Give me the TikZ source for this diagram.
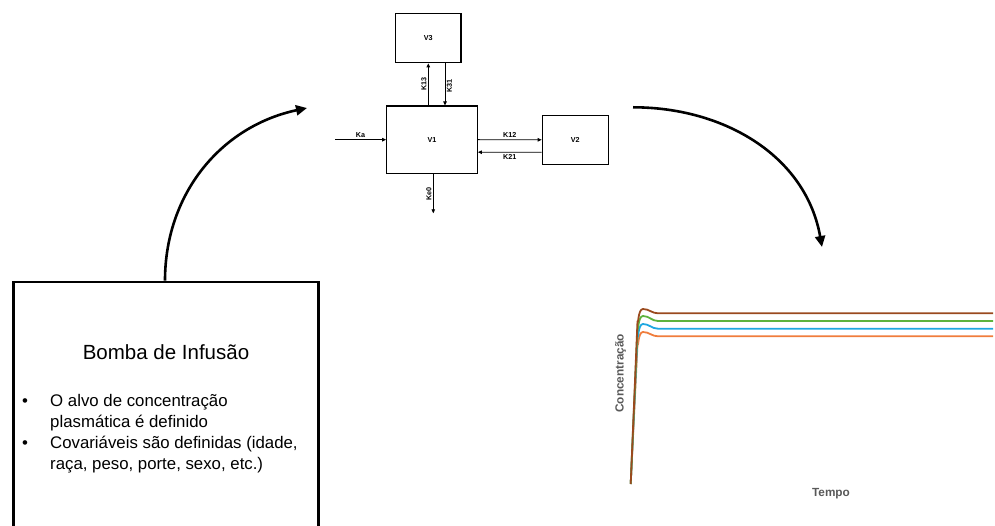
\documentclass[tikz,border=0pt]{standalone}
\usepackage{fontspec}
\setmainfont{Liberation Sans}
\usepackage{tikz}
\usetikzlibrary{calc,arrows.meta}

\definecolor{corMarrom}{HTML}{9A4A1E}
\definecolor{corVerde}{HTML}{5DB33E}
\definecolor{corAzul}{HTML}{1EA7E1}
\definecolor{corLaranja}{HTML}{F07D3C}
\definecolor{cinza}{HTML}{595959}

\begin{document}
\begin{tikzpicture}[x=1pt, y=-1pt,
    comp/.style={draw, line width=1.2pt, inner sep=0pt,
        font=\fontsize{7.2}{8}\selectfont\bfseries},
    fluxo/.style={-{Triangle[length=4pt,width=3.5pt]}, line width=0.9pt},
    rot/.style={font=\fontsize{7.2}{8}\selectfont\bfseries, inner sep=1.5pt},
    grande/.style={-{Triangle[length=11pt,width=10pt]}, line width=2.6pt},
    curva/.style={line width=1.8pt, line join=round}]
    \useasboundingbox (0,0) rectangle (995,526);

    % Compartimentos do modelo
    \node[comp, minimum width=90.6pt, minimum height=67.3pt] (v1) at (432,139.7) {V1};
    \node[comp, minimum width=65.3pt, minimum height=49.4pt] (v3) at (428.3,38) {V3};
    \node[comp, minimum width=66pt, minimum height=49pt] (v2) at (575.3,139.8) {V2};

    % Pontos livres das setas
    \coordinate (ka) at (335,139.7);
    \coordinate (ke0) at (433.3,213.3);
    \coordinate (k13) at (428.3,0);
    \coordinate (k31) at (445,0);

    % Entrada Ka
    \draw[fluxo] (ka) -- (v1.west) node[midway, above, rot] {Ka};

    % Trocas com V3
    \draw[fluxo] (v1.north -| k13) -- (v3.south -| k13)
        node[midway, left, rot, rotate=90, anchor=south] {K13};
    \draw[fluxo] (v3.south -| k31) -- (v1.north -| k31)
        node[midway, right, rot, rotate=90, anchor=north, xshift=-2pt] {K31};

    % Trocas com V2
    \draw[fluxo] (v1.east) -- (v2.west) node[midway, above, rot] {K12};
    \draw[fluxo] ($(v2.west)+(0,12.5)$) -- ($(v1.east)+(0,12.5)$)
        node[midway, below, rot] {K21};

    % Eliminacao Ke0
    \draw[fluxo] (v1.south -| ke0) -- (ke0)
        node[midway, rot, rotate=90, anchor=south] {Ke0};

    % Bomba de infusao
    \node[draw, line width=2.8pt, minimum width=305pt, minimum height=262pt,
        anchor=north, inner sep=0pt] (bomba) at (165.8,280.7) {};
    \node[font=\fontsize{20.5}{24}\selectfont] (titulo) at (166,351.7) {Bomba de Infusão};
    \node[anchor=north west, inner sep=0pt, align=left,
        font=\fontsize{16.8}{21}\selectfont] (lista) at (22,392) {%
        \begin{tabular}{@{}p{28pt}@{}l@{}}
        \textbullet & O alvo de concentração\\
                    & plasmática é definido\\
        \textbullet & Covariáveis são definidas (idade,\\
                    & raça, peso, porte, sexo, etc.)
        \end{tabular}};

    % Setas curvas
    \coordinate (modelo) at (307,108);
    \coordinate (saida) at (633,107.3);
    \coordinate (grafico) at (822,247);
    \draw[grande] (bomba.north -| 165,0) to[out=90, in=192] (modelo);
    \draw[grande] (saida) to[out=0, in=100] (grafico);

    % Curvas de concentracao
    \foreach \cor/\nivel/\pico in {corLaranja/336.3/332, corAzul/328.7/324,
        corVerde/321/316, corMarrom/313.3/309} {
        \draw[curva, \cor] (630.7,484) -- (637.5,\pico+12)
            to[out=-80, in=180] (643,\pico)
            to[out=0, in=180] (658,\nivel) -- (993,\nivel);
    }
    \node[font=\fontsize{11.8}{14}\selectfont\bfseries, text=cinza, rotate=90]
        (eixoy) at (620.7,373.3) {Concentração};
    \node[font=\fontsize{11.8}{14}\selectfont\bfseries, text=cinza]
        (eixox) at (831,493.3) {Tempo};
\end{tikzpicture}
\end{document}
